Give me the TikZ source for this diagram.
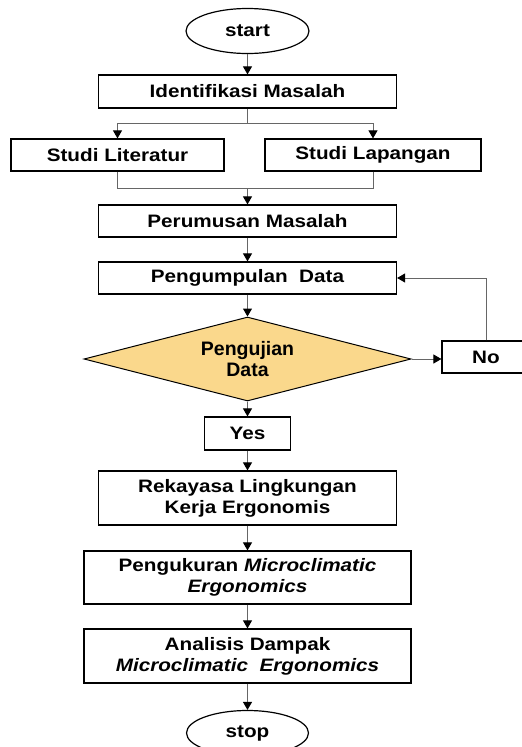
\documentclass[tikz,border=0pt]{standalone}
\usepackage{fontspec}
\setmainfont{Liberation Sans}[FakeStretch=1.15]
\newfontfamily\diafont{Liberation Sans}
\usetikzlibrary{shapes.geometric, arrows.meta}
\definecolor{diafill}{RGB}{250,216,140}

\begin{document}
\begin{tikzpicture}[x=1pt, y=-1pt,
    every node/.style={font=\fontsize{18}{21}\selectfont\bfseries, align=center, inner sep=0pt},
    box/.style={draw, rectangle, line width=1.2pt, minimum height=32},
    terminal/.style={draw, ellipse, line width=1.2pt, minimum width=123, minimum height=45},
    decision/.style={draw, diamond, aspect=3.9, fill=diafill, line width=1pt, minimum width=327, minimum height=84,
        font=\diafont\fontsize{19.5}{21}\selectfont\bfseries},
    flow/.style={draw=black!60, line width=1pt, -{Triangle[length=8pt, width=9pt, color=black]}},
    plain/.style={draw=black!60, line width=1pt}]

            \useasboundingbox (0,0) rectangle (522,747);

            % Nodes
            \node[terminal] at (247.5,31) (start) {start};
            \node[box, minimum width=298, minimum height=33] at (247.5,91.5) (ident) {Identifikasi Masalah};
            \node[box, minimum width=213] at (117.5,155) (lit) {Studi Literatur};
            \node[box, minimum width=216] at (373,155) (lap) {Studi Lapangan};
            \node[box, minimum width=298] at (247.5,221) (rumus) {Perumusan Masalah};
            \node[box, minimum width=298] at (247.5,278) (kumpul) {Pengumpulan~~Data};
            \node[decision] at (247.5,359) (uji) {Pengujian\\Data};
            \node[box, minimum width=88] at (486,357) (no) {No};
            \node[box, minimum width=86, minimum height=33] at (247.5,433.5) (yes) {Yes};
            \node[box, minimum width=298, minimum height=54] at (247.5,498) (reka) {Rekayasa Lingkungan\\Kerja Ergonomis};
            \node[box, minimum width=327, minimum height=53] at (247.5,577.5) (ukur) {Pengukuran \textit{Microclimatic}\\\textit{Ergonomics}};
            \node[box, minimum width=327, minimum height=54] at (247.5,656) (dampak) {Analisis Dampak\\\textit{Microclimatic~~Ergonomics}};
            \node[terminal, minimum width=122] at (247.5,733) (stop) {stop};

            \coordinate (split) at (247.5,123);
            \coordinate (join) at (247.5,188);

            % Lines
            \draw[flow] (start) -- (ident);

            \draw[plain] (ident) -- (split);
            \draw[flow] (split) -| (lit);
            \draw[flow] (split) -| (lap);

            \draw[plain] (lit) |- (join);
            \draw[plain] (lap) |- (join);
            \draw[flow] (join) -- (rumus);

            \draw[flow] (rumus) -- (kumpul);
            \draw[flow] (kumpul) -- (uji);
            \draw[flow] (uji.east) -- (uji.east -| no.west);
            \draw[flow] (no) |- (kumpul);
            \draw[flow] (uji) -- (yes);

            \draw[flow] (yes) -- (reka);
            \draw[flow] (reka) -- (ukur);
            \draw[flow] (ukur) -- (dampak);
            \draw[flow] (dampak) -- (stop);

        \end{tikzpicture}
\end{document}
